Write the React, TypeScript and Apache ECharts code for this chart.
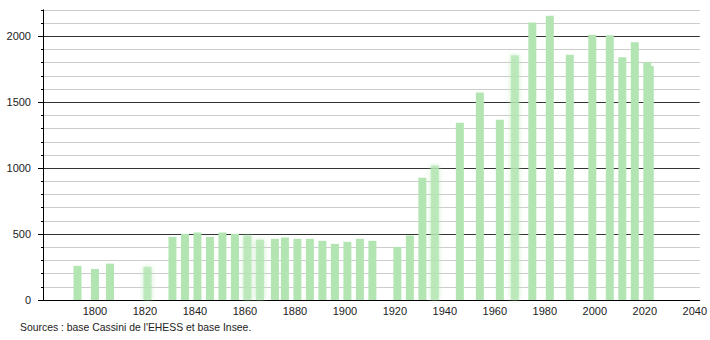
import React, { useEffect, useRef } from "react";
import * as echarts from "echarts";

const years = [1793, 1800, 1806, 1821, 1831, 1836, 1841, 1846, 1851, 1856, 1861, 1866, 1872, 1876, 1881, 1886, 1891, 1896, 1901, 1906, 1911, 1921, 1926, 1931, 1936, 1946, 1954, 1962, 1968, 1975, 1982, 1990, 1999, 2006, 2011, 2016, 2021, 2022];
const population = [259, 236, 276, 251, 479, 502, 512, 479, 512, 502, 489, 457, 464, 474, 464, 464, 449, 426, 441, 464, 449, 403, 489, 928, 1020, 1345, 1575, 1368, 1857, 2106, 2156, 1860, 2012, 2009, 1842, 1956, 1804, 1776];
const blurredYears = [1821, 1861, 1866, 1936, 1968];
const xLabels = [1800, 1820, 1840, 1860, 1880, 1900, 1920, 1940, 1960, 1980, 2000, 2020, 2040];
const yLabels = [0, 500, 1000, 1500, 2000];
const sourceText = "Sources : base Cassini de l'EHESS et base Insee.";

export default function App() {
  const ref = useRef<HTMLDivElement>(null);
  useEffect(() => {
    if (!ref.current) return;
    const chart = echarts.init(ref.current, undefined, { renderer: "svg" });
    const font = "Liberation Sans, Arial, sans-serif";
    const data = years.map((y, i) => {
      const blurred = blurredYears.includes(y);
      return {
        value: [y, population[i]],
        itemStyle: blurred
          ? { color: "rgba(178,229,178,0.75)", shadowBlur: 5, shadowColor: "rgba(178,229,178,0.9)" }
          : { color: "#b2e5b2" },
      };
    });
    chart.setOption({
      animation: false,
      grid: { left: 43, right: 10, top: 10, bottom: 40, containLabel: false },
      xAxis: {
        type: "value",
        min: 1779.2,
        max: 2042,
        axisLine: { show: true, lineStyle: { color: "#000", width: 1 } },
        axisTick: { show: false },
        splitLine: { show: false },
        axisLabel: {
          customValues: xLabels,
          color: "#222",
          fontSize: 11,
          fontFamily: font,
          margin: 5,
          formatter: (v: number) => String(v),
        },
      },
      yAxis: [
        {
          type: "value",
          min: 0,
          max: 2200,
          interval: 100,
          axisLine: { show: true, lineStyle: { color: "#000" } },
          axisTick: { show: true, length: 2, lineStyle: { color: "#000" } },
          axisLabel: { show: false },
          splitLine: {
            show: true,
            lineStyle: { color: ["#333", "#ccc", "#ccc", "#ccc", "#ccc"], width: 1 },
          },
        },
        {
          type: "value",
          min: 0,
          max: 2200,
          position: "left",
          axisLine: { show: true, lineStyle: { color: "#000" } },
          axisTick: { show: true, length: 5, customValues: yLabels, lineStyle: { color: "#000" } },
          axisLabel: {
            customValues: yLabels,
            color: "#222",
            fontSize: 11,
            fontFamily: font,
            margin: 12,
            formatter: (v: number) => String(v),
          },
          splitLine: { show: false },
        },
      ],
      series: [
        {
          type: "bar",
          yAxisIndex: 0,
          barWidth: 8,
          data,
        },
      ],
      graphic: [
        {
          type: "text",
          left: 20,
          top: 322,
          style: { text: sourceText, fill: "#222", fontSize: 10.4, fontFamily: font },
        },
      ],
    });
    return () => chart.dispose();
  }, []);
  return <div ref={ref} style={{ width: 710, height: 340, position: "absolute", left: 0, top: 0 }} />;
}
